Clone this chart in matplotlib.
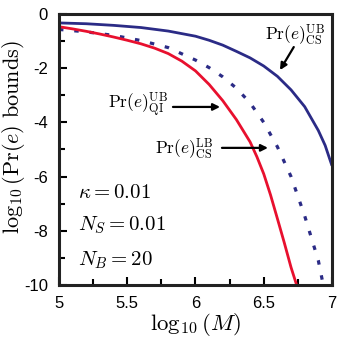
import matplotlib
matplotlib.use("Agg")
import matplotlib.pyplot as plt

plt.rcParams['mathtext.fontset'] = 'cm'
plt.rcParams['font.family'] = ['Liberation Sans', 'DejaVu Sans']

# Data
x_red = [5.0, 5.1, 5.2, 5.3, 5.4, 5.5, 5.6, 5.7, 5.8, 5.9, 6.0, 6.1, 6.2, 6.3,
         6.4, 6.45, 6.5, 6.55, 6.6, 6.65, 6.7, 6.741]
y_red = [-0.47, -0.55, -0.64, -0.74, -0.85, -0.97, -1.10, -1.26, -1.46, -1.74, -2.10, -2.60, -3.20, -3.90,
         -4.72, -5.27, -5.9, -6.68, -7.55, -8.43, -9.35, -10.0]

x_blue = [5.0, 5.2, 5.4, 5.6, 5.8, 6.0, 6.1, 6.2, 6.3, 6.4, 6.5, 6.6, 6.7, 6.8, 6.9, 6.95, 7.0]
y_blue = [-0.33, -0.36, -0.42, -0.50, -0.63, -0.82, -0.97, -1.15, -1.38, -1.62, -1.92, -2.3, -2.8, -3.42, -4.3, -4.85, -5.6]

x_dash = [5.0, 5.2, 5.4, 5.6, 5.8, 6.0, 6.1, 6.2, 6.3, 6.4, 6.5, 6.6, 6.7, 6.8, 6.9, 6.936]
y_dash = [-0.57, -0.66, -0.79, -0.98, -1.24, -1.70, -1.98, -2.32, -2.74, -3.28, -4.0, -4.9, -6.0, -7.45, -9.1, -10.0]

xticks = [5, 5.5, 6, 6.5, 7]
xticklabels = ['5', '5.5', '6', '6.5', '7']
yticks = [0, -2, -4, -6, -8, -10]
yticklabels = ['0', '-2', '-4', '-6', '-8', '-10']

navy = '#2b2b86'
red = '#e8102e'

fig = plt.figure(figsize=(3.46, 3.41), dpi=100)
ax = fig.add_axes([0.1705, 0.1642, 0.789, 0.7948])

ax.plot(x_blue, y_blue, color=navy, lw=2.0, solid_capstyle='butt')
ax.plot(x_dash, y_dash, color=navy, lw=2.3, dashes=(1.4, 3.4))
ax.plot(x_red, y_red, color=red, lw=2.0, solid_capstyle='butt')

ax.set_xlim(5, 7)
ax.set_ylim(-10, 0)
ax.set_xticks(xticks)
ax.set_xticklabels(xticklabels)
ax.set_yticks(yticks)
ax.set_yticklabels(yticklabels)
ax.set_xticks([5.25, 5.75, 6.25, 6.75], minor=True)
ax.set_yticks([-1, -3, -5, -7, -9], minor=True)
ax.tick_params(which='both', direction='in', top=False, right=False, labelsize=12, width=1.5)
ax.tick_params(which='major', length=6, pad=8)
ax.tick_params(which='minor', length=4)
for s in ax.spines.values():
    s.set_linewidth(2.2)
    s.set_color('#222222')

ax.set_xlabel(r'$\log_{10}(M)$', fontsize=16.5, labelpad=0)
ax.set_ylabel(r'$\log_{10}(\mathrm{Pr}(e)\ \mathrm{bounds})$', fontsize=16)
ax.yaxis.set_label_coords(-0.118, 0.546)

ax.text(5.14, -6.57, r'$\kappa = 0.01$', fontsize=15, va='center', ha='left')
ax.text(5.14, -7.79, r'$N_S = 0.01$', fontsize=15, va='center', ha='left')
ax.text(5.14, -9.08, r'$N_B = 20$', fontsize=15, va='center', ha='left')

ax.text(6.729, -0.775, r'$\mathrm{Pr}(e)^{\mathrm{UB}}_{\mathrm{CS}}$', fontsize=12.5, va='center', ha='center')
ax.text(5.579, -3.36, r'$\mathrm{Pr}(e)^{\mathrm{UB}}_{\mathrm{QI}}$', fontsize=12.5, va='center', ha='center')
ax.text(5.916, -4.98, r'$\mathrm{Pr}(e)^{\mathrm{LB}}_{\mathrm{CS}}$', fontsize=12.5, va='center', ha='center')

ap = dict(arrowstyle='-|>', lw=1.6, color='k', mutation_scale=10, shrinkA=0, shrinkB=0)
ax.annotate('', xy=(6.619, -2.07), xytext=(6.72, -1.22), arrowprops=ap)
ax.annotate('', xy=(6.18, -3.43), xytext=(5.835, -3.43), arrowprops=ap)
ax.annotate('', xy=(6.531, -4.94), xytext=(6.194, -4.94), arrowprops=ap)

fig.savefig('out.png', dpi=100)
